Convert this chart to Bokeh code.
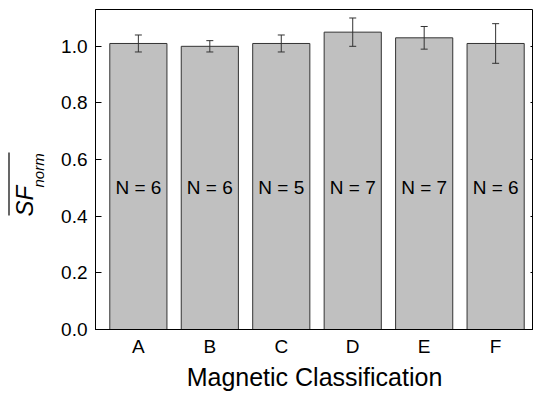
import math
from bokeh.plotting import figure
from bokeh.layouts import row
from bokeh.models import (ColumnDataSource, Range1d, FixedTicker, PrintfTickFormatter,
                          LinearAxis, Whisker, TeeHead)
from bokeh.embed import file_html
from bokeh.resources import INLINE
from bokeh.core.properties import value

# ---- data ----
categories = ["A", "B", "C", "D", "E", "F"]
means = [1.01, 1.00, 1.01, 1.05, 1.03, 1.01]
errors = [0.03, 0.02, 0.03, 0.05, 0.04, 0.07]
counts = [6, 6, 5, 7, 7, 6]
y_ticks = [0.0, 0.2, 0.4, 0.6, 0.8, 1.0]
x_title = "Magnetic Classification"
y_title_main = "SF"
y_title_sub = "norm"

FONT = "Liberation Sans"
TITLE_W = 56
TOP = 9
BOTTOM = 65
H = 394

xs = [i + 0.5 for i in range(len(categories))]
src = ColumnDataSource(dict(
    x=xs,
    top=means,
    upper=[m + e for m, e in zip(means, errors)],
    lower=[m - e for m, e in zip(means, errors)],
    label=[f"N = {n}" for n in counts],
    ymid=[0.5] * len(categories),
))

p = figure(width=533 - TITLE_W, height=H, x_range=Range1d(-0.1, 6.03), y_range=Range1d(0, 1.13),
           output_backend="svg", toolbar_location=None,
           min_border_left=95 - TITLE_W, min_border_right=0, min_border_top=TOP,
           min_border_bottom=BOTTOM)
p.xgrid.visible = False
p.ygrid.visible = False
p.outline_line_color = "black"
p.outline_line_width = 1
p.background_fill_color = "white"
p.border_fill_color = "white"

p.vbar(x="x", top="top", width=0.8, bottom=0, source=src,
       fill_color="#c0c0c0", line_color="#333333", line_width=1)

w = Whisker(base="x", upper="upper", lower="lower", source=src,
            line_color="#333333", line_width=1, level="overlay",
            upper_head=TeeHead(size=7, line_color="#333333", line_width=1),
            lower_head=TeeHead(size=7, line_color="#333333", line_width=1))
p.add_layout(w)

p.text(x="x", y="ymid", text="label", source=src, text_align="center",
       text_baseline="middle", text_font=value(FONT), text_font_size="19px",
       text_color="black")

# y axis
ya = p.yaxis[0]
ya.ticker = FixedTicker(ticks=y_ticks)
ya.formatter = PrintfTickFormatter(format="%.1f")
ya.major_tick_in = 6
ya.major_tick_out = 0
ya.minor_tick_line_color = None
ya.axis_line_color = "black"
ya.major_tick_line_color = "black"
ya.major_label_text_font = FONT
ya.major_label_text_font_size = "19px"
ya.major_label_text_color = "black"
ya.major_label_standoff = 8

# x axis
xa = p.xaxis[0]
xa.ticker = FixedTicker(ticks=xs)
xa.major_label_overrides = {x: c for x, c in zip(xs, categories)}
xa.major_tick_in = 0
xa.major_tick_out = 0
xa.minor_tick_line_color = None
xa.axis_line_color = "black"
xa.major_label_text_font = FONT
xa.major_label_text_font_size = "19px"
xa.major_label_text_color = "black"
xa.major_label_standoff = 6
xa.axis_label = x_title
xa.axis_label_text_font = FONT
xa.axis_label_text_font_size = "25px"
xa.axis_label_text_font_style = "normal"
xa.axis_label_text_color = "black"
xa.axis_label_standoff = 3

# right axis with short inward ticks only
ra = LinearAxis(ticker=FixedTicker(ticks=y_ticks),
                major_label_overrides={t: "" for t in y_ticks},
                major_tick_in=3, major_tick_out=0, minor_tick_line_color=None,
                axis_line_color=None, major_label_standoff=0,
                major_tick_line_color="black")
p.add_layout(ra, "right")

# y title panel: overlined, italic SF with subscript "norm", rotated
# data coordinates of this panel equal page pixels
t = figure(width=TITLE_W, height=H, x_range=Range1d(0, TITLE_W), y_range=Range1d(H - BOTTOM, TOP),
           output_backend="svg", toolbar_location=None, min_border_left=0, min_border_right=0,
           min_border_top=TOP, min_border_bottom=BOTTOM,
           x_axis_location=None, y_axis_location=None)
t.outline_line_color = None
t.grid.visible = False
t.background_fill_color = "white"
t.border_fill_color = "white"
t.text(x=[23.5], y=[216], text=[y_title_main], angle=math.pi / 2, text_align="left",
       text_baseline="middle", text_font=value(FONT), text_font_style="italic",
       text_font_size="24px", text_color="black")
t.text(x=[38], y=[187], text=[y_title_sub], angle=math.pi / 2, text_align="left",
       text_baseline="middle", text_font=value(FONT), text_font_style="italic",
       text_font_size="15px", text_color="black")
t.segment(x0=[8.5], y0=[152], x1=[8.5], y1=[215], line_color="black", line_width=1.2)

layout = row(t, p)
open("out.html", "w").write(file_html(layout, INLINE))
